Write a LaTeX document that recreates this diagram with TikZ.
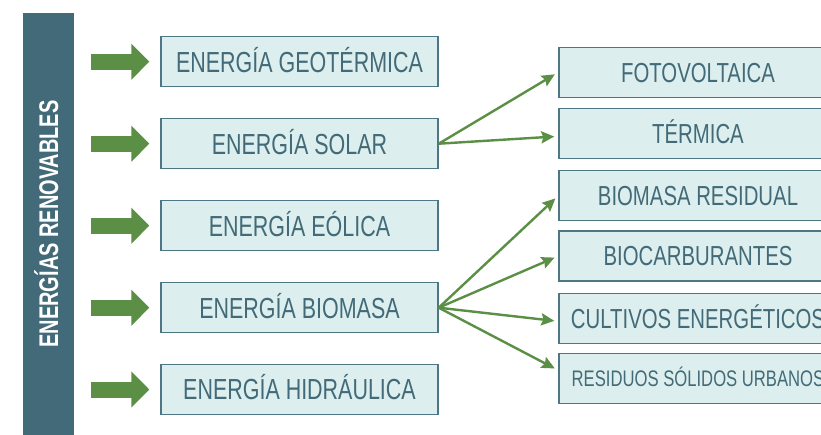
\documentclass[tikz,border=0pt]{standalone}
\usepackage{fontspec}
\setmainfont{Liberation Sans}[FakeStretch=0.74]
\usepackage{tikz}
\usetikzlibrary{arrows.meta, positioning}

\definecolor{barcolor}{HTML}{436A78}
\definecolor{boxfill}{HTML}{DCEFEE}
\definecolor{boxline}{HTML}{4F7684}
\definecolor{arrgreen}{HTML}{5A8F45}

\tikzset{
    energybox/.style={draw=boxline, line width=1.4pt, fill=boxfill, text=barcolor, inner sep=0pt,
        minimum width=277pt, minimum height=50pt, text height=20.8pt, text depth=0pt,
        font=\fontsize{29}{34}\selectfont},
    typebox/.style={energybox, minimum width=278pt, text height=19.6pt, font=\fontsize{27.5}{32}\selectfont},
    bigarrow/.style={arrgreen, line width=16pt, -{Triangle[length=18pt, width=35pt]}},
    thinarrow/.style={arrgreen, line width=2.4pt, shorten >=4pt, -{Stealth[length=13pt, width=12pt, inset=2pt]}}
}

\begin{document}
\begin{tikzpicture}[x=1pt, y=-1pt]
    \clip (0,0) rectangle (821,434);
    \fill[white] (0,0) rectangle (821,434);

    % Side bar
    \node[fill=barcolor, text=white, inner sep=0pt, minimum width=422pt, minimum height=51pt, rotate=90,
        text height=19.3pt, text depth=0pt, font=\fontsize{27}{32}\selectfont\bfseries] (bar) at (48.5,224) {ENERGÍAS RENOVABLES};

    % Kinds of energy
    \node[energybox] (geo) at (299.5,61.7) {ENERGÍA GEOTÉRMICA};
    \node[energybox] (sol) at (299.5,143.7) {ENERGÍA SOLAR};
    \node[energybox] (eol) at (299.5,225.7) {ENERGÍA EÓLICA};
    \node[energybox] (bio) at (299.5,307.7) {ENERGÍA BIOMASA};
    \node[energybox] (hid) at (299.5,389.5) {ENERGÍA HIDRÁULICA};

    % Big arrows
    \coordinate (s1) at (91,61.7);
    \coordinate (s2) at (91,143.7);
    \coordinate (s3) at (91,225.7);
    \coordinate (s4) at (91,307.7);
    \coordinate (s5) at (91,389.5);
    \draw[bigarrow] (s1) -- ([xshift=-11pt]geo.west);
    \draw[bigarrow] (s2) -- ([xshift=-11pt]sol.west);
    \draw[bigarrow] (s3) -- ([xshift=-11pt]eol.west);
    \draw[bigarrow] (s4) -- ([xshift=-11pt]bio.west);
    \draw[bigarrow] (s5) -- ([xshift=-11pt]hid.west);

    % Solar types
    \node[typebox] (foto) at (698,72.3) {FOTOVOLTAICA};
    \node[typebox] (term) at (698,133.3) {TÉRMICA};

    % Biomass types
    \node[typebox] (resid) at (698,195.7) {BIOMASA RESIDUAL};
    \node[typebox] (bioc) at (698,256) {BIOCARBURANTES};
    \node[typebox] (cult) at (698,318.3) {CULTIVOS ENERGÉTICOS};
    \node[typebox, text height=16pt, font=\fontsize{22.5}{26}\selectfont] (rsu) at (698,378.3) {RESIDUOS SÓLIDOS URBANOS};

    % Arrows
    \draw[thinarrow] (sol.east) -- (foto.west);
    \draw[thinarrow] (sol.east) -- ([yshift=-3pt]term.west);
    \draw[thinarrow] (bio.east) -- (resid.west);
    \draw[thinarrow] (bio.east) -- (bioc.west);
    \draw[thinarrow] (bio.east) -- ([yshift=-3pt]cult.west);
    \draw[thinarrow] (bio.east) -- ([yshift=8pt]rsu.west);
\end{tikzpicture}
\end{document}
